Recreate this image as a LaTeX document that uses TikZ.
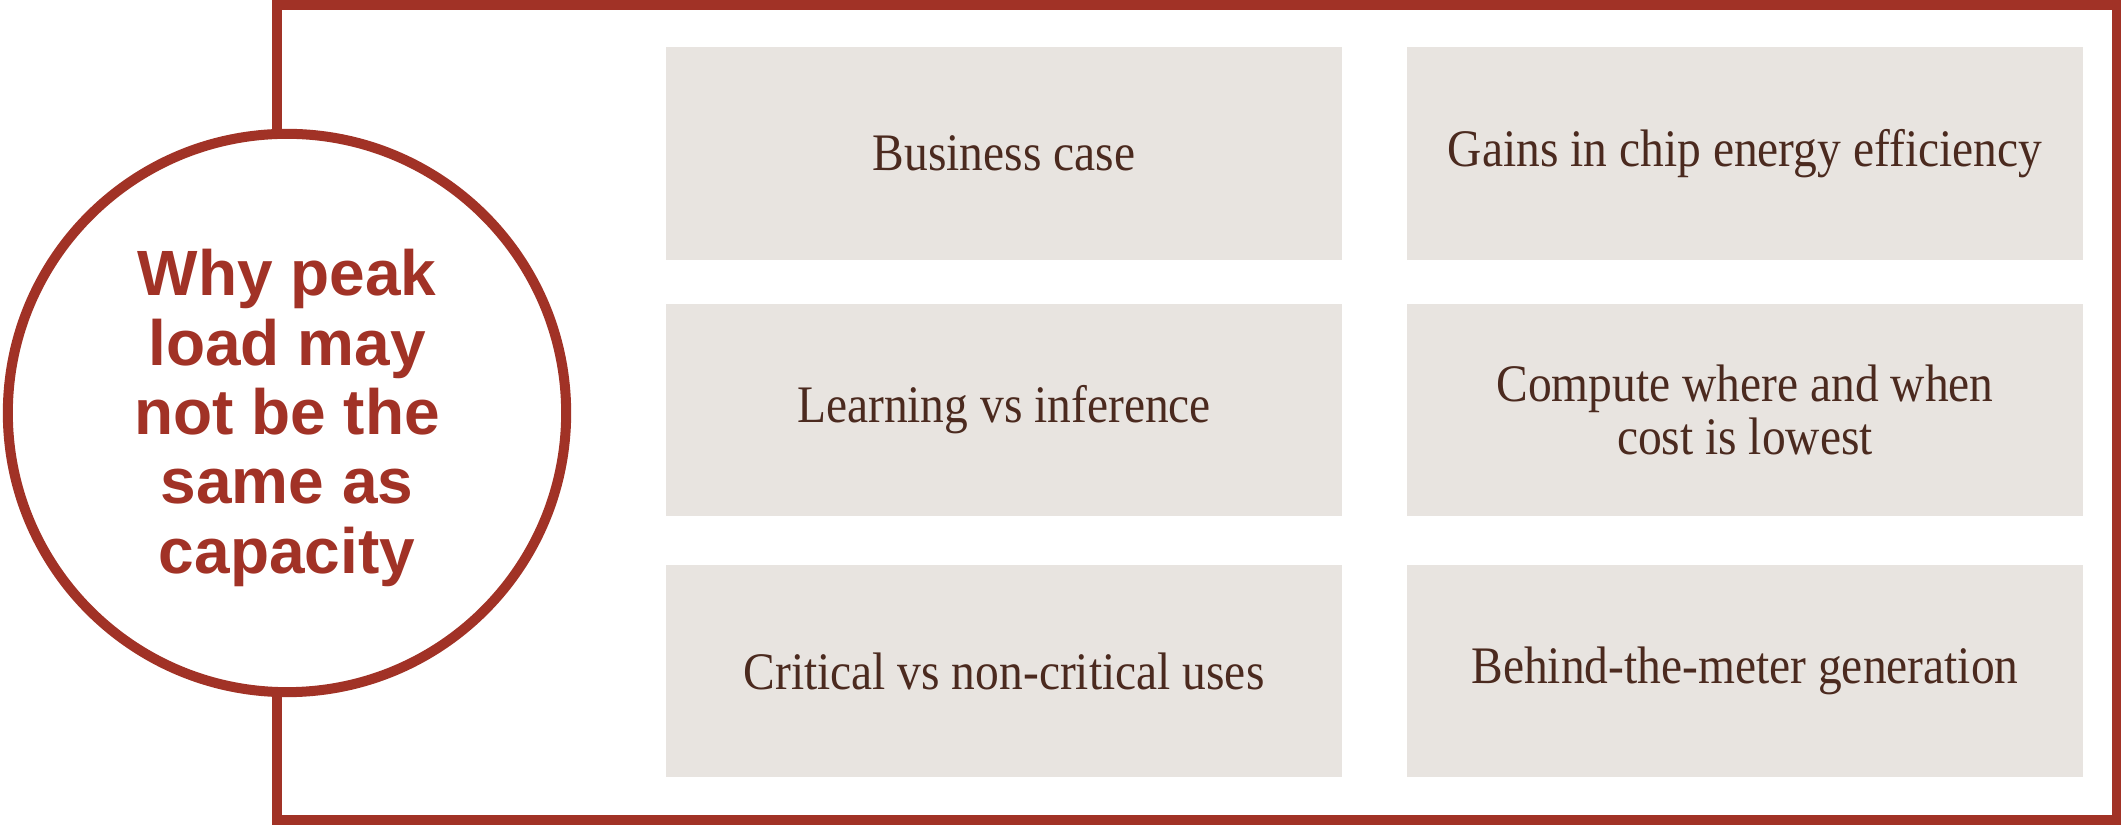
\documentclass[tikz,border=0pt]{standalone}
\usepackage{fontspec}
\newfontfamily\cardfont{Liberation Serif}[FakeStretch=0.9]
\newfontfamily\headfont{Liberation Sans}
\definecolor{framered}{HTML}{A13226}
\definecolor{cardfill}{HTML}{E8E4E0}
\definecolor{cardtext}{HTML}{4B2A1F}
\begin{document}
\begin{tikzpicture}[x=0.01cm,y=-0.01cm,
  card/.style={rectangle, fill=cardfill, minimum width=6.76cm, minimum height=2.12cm,
    inner sep=0pt, text=cardtext, align=center,
    font=\cardfont\fontsize{15}{15.2}\selectfont},
  hub/.style={circle, draw=framered, line width=0.1cm, fill=white, minimum size=5.58cm,
    inner sep=0pt, text=framered, align=center,
    font=\headfont\bfseries\fontsize{18.2}{19.7}\selectfont}]
\useasboundingbox (0,0) rectangle (2121,825);
% outer frame
\draw[framered, line width=0.1cm] (277,5) rectangle (2117,820);
% central question
\node[hub] (hub) at (287,413) {};
\node[text=framered, align=center, inner sep=0pt,
  font=\headfont\bfseries\fontsize{18.2}{19.7}\selectfont] (question) at (287,418)
  {Why peak\\load may\\not be the\\same as\\capacity};
% factor cards, left column
\node[card] (c1) at (1004,153.5) {Business case};
\node[card] (c2) at (1004,410) {Learning vs inference};
\node[card] (c3) at (1004,671) {Critical vs non-critical uses};
% factor cards, right column
\node[card] (c4) at (1745,153.5) {Gains in chip energy efficiency};
\node[card] (c5) at (1745,410) {Compute where and when\\cost is lowest};
\node[card] (c6) at (1745,671) {Behind-the-meter generation};
\end{tikzpicture}
\end{document}
